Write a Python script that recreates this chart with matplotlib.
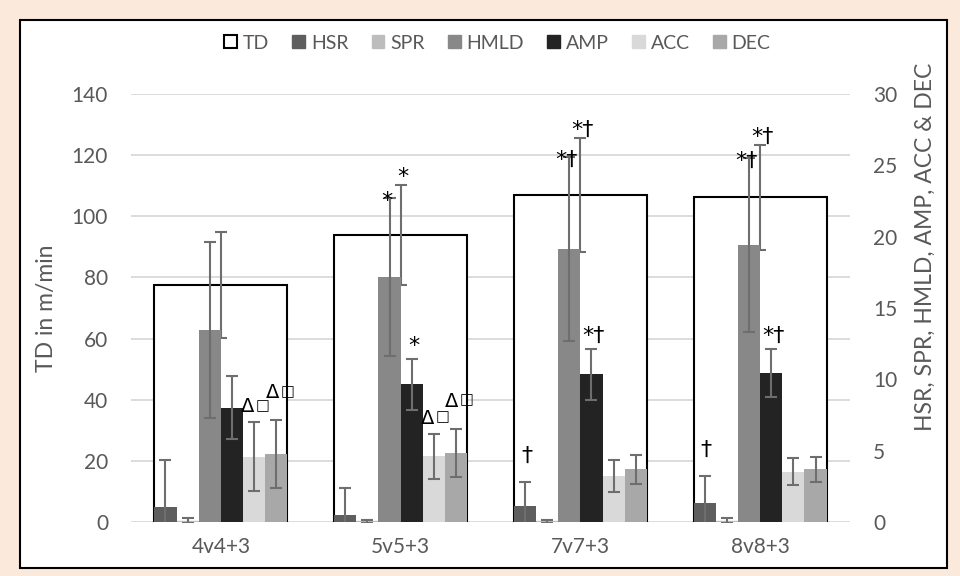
import numpy as np
import matplotlib.pyplot as plt
from matplotlib.patches import Patch, Rectangle

plt.rcParams['font.family'] = ['Lato', 'DejaVu Sans']

# Data
groups = ['4v4+3', '5v5+3', '7v7+3', '8v8+3']
td = [77.4, 93.9, 106.9, 106.2]
td_sd = [17.3, 16.4, 18.6, 17.2]
hsr = [1.07, 0.49, 1.12, 1.35]
hsr_sd = [3.27, 1.87, 1.70, 1.87]
spr = [0.10, 0.05, 0.05, 0.10]
spr_sd = [0.20, 0.10, 0.10, 0.15]
hmld = [13.45, 17.19, 19.13, 19.41]
hmld_sd = [6.19, 5.54, 6.47, 6.12]
amp = [8.01, 9.67, 10.35, 10.42]
amp_sd = [2.21, 1.79, 1.81, 1.69]
acc = [4.58, 4.62, 3.22, 3.53]
acc_sd = [2.40, 1.58, 1.10, 0.93]
dec = [4.74, 4.86, 3.69, 3.69]
dec_sd = [2.39, 1.68, 1.02, 0.88]

# significance markers
td_sig = ['', '*', '*†', '*†']
hsr_sig = ['', '', '†', '†']
spr_sig = ['', '', '', '']
hmld_sig = ['', '*', '*†', '*†']
amp_sig = ['', '*', '*†', '*†']
acc_sig = ['Δ□', 'Δ□', '', '']
dec_sig = ['Δ□', 'Δ□', '', '']

series = [
    ('HSR', hsr, hsr_sd, hsr_sig, '#5e5e5e'),
    ('SPR', spr, spr_sd, spr_sig, '#bdbdbd'),
    ('HMLD', hmld, hmld_sd, hmld_sig, '#888888'),
    ('AMP', amp, amp_sd, amp_sig, '#232323'),
    ('ACC', acc, acc_sd, acc_sig, '#d9d9d9'),
    ('DEC', dec, dec_sd, dec_sig, '#a8a8a8'),
]
# marker placement relative to the error bar cap, in pixels (dx, lift)
mark_pos = {'TD': (2, 2), 'HSR': (1.5, 20), 'SPR': (0, 0), 'HMLD': (-3, -9),
            'AMP': (2, 7), 'ACC': (0.5, 10), 'DEC': (3, 22)}

grey = '#595959'
err_col = '#6e6e6e'
x = np.arange(len(groups))
w = 0.74 / 6
px = 0.72  # points per pixel at 100 dpi


def mark(a, xs, tops, labels, dx, lift):
    for xi, yi, t in zip(xs, tops, labels):
        if not t:
            continue
        if t == 'Δ□':
            a.annotate(t[0], (xi, yi), xytext=((dx - 0.5) * px, lift * px),
                       textcoords='offset points', ha='right', va='baseline',
                       fontsize=14, family='DejaVu Sans')
            a.annotate(t[1], (xi, yi), xytext=((dx + 1) * px, (lift + 2.5) * px),
                       textcoords='offset points', ha='left', va='baseline',
                       fontsize=10.5, family='DejaVu Sans')
        else:
            a.annotate(t, (xi, yi), xytext=(dx * px, lift * px),
                       textcoords='offset points', ha='center', va='baseline',
                       fontsize=16, family='DejaVu Sans')


fig = plt.figure(figsize=(9.6, 5.76), dpi=100)
fig.patch.set_facecolor('#fbe9db')
fig.patches.append(Rectangle((20 / 960, 8 / 576), 927 / 960, 548 / 576,
                             transform=fig.transFigure, facecolor='white',
                             edgecolor='black', lw=1.5, zorder=-5))

ax = fig.add_axes([131 / 960, 54 / 576, 719 / 960, 428 / 576])
ax.patch.set_visible(False)
ax2 = ax.twinx()

# TD on the left axis
ax.bar(x, td, width=0.74, facecolor='white', edgecolor='black', lw=1.5, zorder=2)
ax.errorbar(x, td, yerr=td_sd, fmt='none', ecolor=err_col, elinewidth=1.5,
            capsize=4.5, capthick=1.5, zorder=3)
mark(ax, x, np.add(td, td_sd), td_sig, *mark_pos['TD'])

# the other measures on the right axis
for i, (name, vals, sd, sig, col) in enumerate(series):
    xs = x + (i - 2.5) * w
    ax2.bar(xs, vals, width=w, color=col, zorder=2)
    ax2.errorbar(xs, vals, yerr=sd, fmt='none', ecolor=err_col, elinewidth=1.5,
                 capsize=4.5, capthick=1.5, zorder=3)
    mark(ax2, xs, np.add(vals, sd), sig, *mark_pos[name])

ax.set_xlim(-0.5, 3.5)
ax.set_ylim(0, 140)
ax2.set_ylim(0, 30)
ax.set_yticks(range(0, 141, 20))
ax2.set_yticks(range(0, 31, 5))
ax.set_xticks(x)
ax.set_xticklabels(groups)

ax.grid(axis='y', color='#d9d9d9', lw=1.3)
ax.set_axisbelow(True)
for a in (ax, ax2):
    for sp in a.spines.values():
        sp.set_visible(False)
    a.tick_params(length=0, labelsize=15, labelcolor=grey)
ax.tick_params(axis='y', pad=16.5)
ax2.tick_params(axis='y', pad=16.5)
ax.tick_params(axis='x', pad=11)

ax.set_ylabel('TD in m/min', fontsize=16.5, color=grey)
ax.yaxis.set_label_coords(-0.103, 0.5)
ax2.set_ylabel('HSR, SPR, HMLD, AMP, ACC & DEC', fontsize=16.5, color=grey)
ax2.yaxis.set_label_coords(1.09, 0.643)

handles = [Patch(facecolor='white', edgecolor='black', lw=1.5, label='TD')]
handles += [Patch(color=s[4], label=s[0]) for s in series]
fig.legend(handles=handles, loc='center', bbox_to_anchor=(0.518, 0.925), ncol=7,
           frameon=False, fontsize=14, labelcolor=grey, handlelength=0.65,
           handleheight=0.65, handletextpad=0.3, columnspacing=1.2)

plt.savefig('out.png', dpi=100, facecolor=fig.get_facecolor())
